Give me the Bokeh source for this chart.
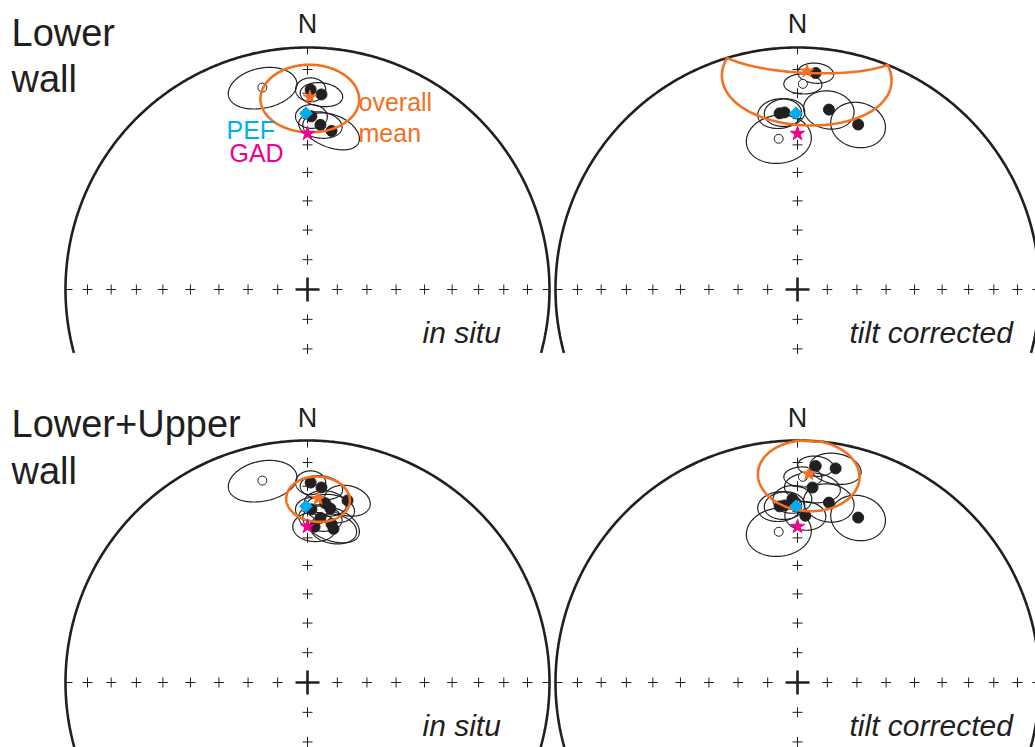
import numpy as np
from bokeh.plotting import figure
from bokeh.models import Range1d, Label
from bokeh.embed import file_html
from bokeh.resources import INLINE

# ---------------- data (declination, inclination in degrees) ----------------
# Lower wall sites, in situ  (negative inclination = upper hemisphere, open symbol)
lw_is_dec = [0.9, 4.1, 1.3, 4.5, 8.6, 347.4]
lw_is_inc = [18.5, 20.3, 29.2, 32.3, 34.1, -15.6]
lw_is_a = [4.1, 5.9, 4.6, 6.4, 8.9, 9.3]     # confidence semi-angle along declination
lw_is_b = [4.9, 4.8, 4.6, 5.0, 6.1, 8.4]     # confidence semi-angle along inclination
lw_is_rot = [0, -10, 0, -5, -20, 5]

# Lower wall sites, tilt corrected
lw_tc_dec = [4.8, 354.2, 355.8, 9.9, 20.2, 1.5, 352.9]
lw_tc_inc = [11.2, 27.7, 27.5, 25.5, 28.2, -16.1, -37.3]
lw_tc_a = [4.65, 6.3, 5.8, 7.2, 7.9, 5.1, 9.8]
lw_tc_b = [4.35, 5.8, 5.4, 7.5, 8.8, 4.2, 9.0]
lw_tc_rot = [0, 0, 0, 0, -12, 0, 0]

# Upper wall sites, in situ
uw_is_dec = [5.7, 7.5, 9.6, 2.6, 12.4]
uw_is_inc = [26.5, 28.3, 35.8, 35.8, 24.0]
uw_is_a = [6.0, 7.0, 7.0, 6.5, 6.5]
uw_is_b = [5.0, 5.5, 5.5, 5.5, 6.0]
uw_is_rot = [0, 0, 0, 0, 0]

# Upper wall sites, tilt corrected
uw_tc_dec = [10.1, 4.4, 358.4, 2.7]
uw_tc_inc = [11.1, 20.3, 25.2, 31.6]
uw_tc_a = [6.7, 7.7, 5.5, 6.0]
uw_tc_b = [6.6, 6.1, 5.5, 5.5]
uw_tc_rot = [0, 0, 0, 0]

# Overall means: [dec, inc, semi-angle dec, semi-angle inc] per panel
mean_lw_is = [0.7, 21.6, 13.7, 13.7]
mean_lw_tc = [2.5, 10.6, 22.0, 22.0]
mean_all_is = [3.3, 24.9, 9.0, 9.0]
mean_all_tc = [3.1, 14.8, 13.5, 15.0]

# Reference directions
pef_dir = [359.5, 28.0]
gad_dir = [0.0, 35.8]

# Tick positions (angle from vertical, degrees)
tick_colat = [10, 20, 30, 40, 50, 60, 70, 80]
tick_colat_south = [10, 20]

# ---------------- geometry helpers ----------------
RPX = 242.0                 # stereonet radius in pixels
W, H = 1035, 747
C0X, C0Y = 307.0, 289.0     # top-left stereonet centre (pixels)

def sx(px):
    return (px - C0X) / RPX

def sy(py):
    return (C0Y - py) / RPX

OFF = {
    "tl": (0.0, 0.0),
    "tr": (sx(797), 0.0),
    "bl": (0.0, sy(682)),
    "br": (sx(797), sy(682)),
}

def vec(dec, inc):
    d, i = np.radians(dec), np.radians(inc)
    return np.array([np.cos(i) * np.cos(d), np.cos(i) * np.sin(d), np.sin(i)])

def project(n, e, d):
    s = np.sqrt(1.0 + np.abs(d))
    return e / s, n / s

def cone(dec, inc, a, b, rot=0.0, npts=241):
    D, I = np.radians(dec), np.radians(inc)
    v = vec(dec, inc)
    e_dec = np.array([-np.sin(D), np.cos(D), 0.0])
    e_up = np.array([np.sin(I) * np.cos(D), np.sin(I) * np.sin(D), -np.cos(I)])
    t = np.linspace(0, 2 * np.pi, npts)
    A = np.radians(a) * np.cos(t)
    B = np.radians(b) * np.sin(t)
    ph = np.radians(rot)
    u1 = A * np.cos(ph) - B * np.sin(ph)
    u2 = A * np.sin(ph) + B * np.cos(ph)
    rho = np.sqrt(u1 ** 2 + u2 ** 2)
    w = (np.outer(np.cos(rho), v)
         + (np.sin(rho) / rho)[:, None] * (np.outer(u1, e_dec) + np.outer(u2, e_up)))
    return project(w[:, 0], w[:, 1], w[:, 2])

def point(dec, inc):
    v = vec(dec, inc)
    return project(v[0], v[1], v[2])

# ---------------- figure ----------------
p = figure(width=W, height=H,
           x_range=Range1d(sx(0), sx(W)), y_range=Range1d(sy(H), sy(0)),
           output_backend="svg", toolbar_location=None,
           x_axis_location=None, y_axis_location=None, min_border=0)
p.grid.visible = False
p.outline_line_color = None
p.background_fill_color = "white"

INK = "#231F20"
ORANGE = "#F37021"
CYAN = "#00AEEF"
MAGENTA = "#EC008C"

def r_of(colat):
    return np.sqrt(2) * np.sin(np.radians(colat) / 2)

def frame(key, bottom_clip):
    ox, oy = OFF[key]
    t0 = np.arccos(bottom_clip)
    t = np.linspace(-t0, t0, 400)
    p.line(ox + np.sin(t), oy + np.cos(t), line_color=INK, line_width=2.6)
    rs = [r_of(c) for c in tick_colat]
    rss = [r_of(c) for c in tick_colat_south]
    xs = [ox + r for r in rs] + [ox - r for r in rs] + [ox] * len(rs) + [ox] * len(rss)
    ys = [oy] * len(rs) * 2 + [oy + r for r in rs] + [oy - r for r in rss]
    p.scatter(xs, ys, marker="cross", size=10, line_color=INK, line_width=1)
    p.scatter([ox], [oy], marker="cross", size=24, line_color=INK, line_width=2.6)
    k = 7.0 / RPX
    p.multi_line([[ox, ox], [ox - 1, ox - 1 + k], [ox + 1, ox + 1 - k]],
                 [[oy + 1, oy + 1 - k], [oy, oy], [oy, oy]],
                 line_color=INK, line_width=1)

def sites(key, decs, incs, a_s, b_s, rots):
    ox, oy = OFF[key]
    exs, eys = [], []
    for dd, ii, aa, bb, rr in zip(decs, incs, a_s, b_s, rots):
        x, y = cone(dd, ii, aa, bb, rr)
        exs.append(list(ox + x))
        eys.append(list(oy + y))
    p.multi_line(exs, eys, line_color=INK, line_width=1.2)
    fx, fy, ux, uy = [], [], [], []
    for dd, ii in zip(decs, incs):
        x, y = point(dd, ii)
        if ii >= 0:
            fx.append(ox + x); fy.append(oy + y)
        else:
            ux.append(ox + x); uy.append(oy + y)
    p.scatter(fx, fy, marker="circle", size=11, fill_color=INK, line_color=INK)
    p.scatter(ux, uy, marker="circle", size=9, fill_color="white", line_color=INK, line_width=1)

def refs(key, mean):
    ox, oy = OFF[key]
    x, y = cone(mean[0], mean[1], mean[2], mean[3])
    p.line(ox + x, oy + y, line_color=ORANGE, line_width=2.6)
    px_, py_ = point(*pef_dir)
    p.scatter([ox + px_], [oy + py_], marker="square", angle=np.pi / 4, size=9,
              fill_color=CYAN, line_color=CYAN)
    gx, gy = point(*gad_dir)
    p.scatter([ox + gx], [oy + gy], marker="star", size=15, fill_color=MAGENTA, line_color=MAGENTA)
    mx, my = point(mean[0], mean[1])
    p.scatter([ox + mx], [oy + my], marker="star", size=14, fill_color=ORANGE, line_color=ORANGE)

frame("tl", -0.262)
frame("tr", -0.262)
frame("bl", -0.30)
frame("br", -0.30)

sites("tl", lw_is_dec, lw_is_inc, lw_is_a, lw_is_b, lw_is_rot)
refs("tl", mean_lw_is)

sites("tr", lw_tc_dec, lw_tc_inc, lw_tc_a, lw_tc_b, lw_tc_rot)
refs("tr", mean_lw_tc)

sites("bl", lw_is_dec + uw_is_dec, lw_is_inc + uw_is_inc, lw_is_a + uw_is_a,
      lw_is_b + uw_is_b, lw_is_rot + uw_is_rot)
refs("bl", mean_all_is)

sites("br", lw_tc_dec + uw_tc_dec, lw_tc_inc + uw_tc_inc, lw_tc_a + uw_tc_a,
      lw_tc_b + uw_tc_b, lw_tc_rot + uw_tc_rot)
refs("br", mean_all_tc)

FONT = "Liberation Sans"

def label(text, px, py, size, color=INK, style="normal", align="left"):
    # py is the desired baseline in pixels; compensate renderer baseline offset
    yb = py - 0.38 * size
    p.add_layout(Label(x=sx(px), y=sy(yb), text=text, text_font=FONT,
                       text_font_size=f"{size}px", text_color=color,
                       text_font_style=style, text_align=align,
                       text_baseline="alphabetic"))

label("Lower", 11, 47, 38)
label("wall", 11, 93, 38)
label("Lower+Upper", 11, 438, 38)
label("wall", 11, 485, 38)
for cx, by in [(307, 34), (797, 34), (307, 428), (797, 428)]:
    label("N", cx, by, 27, align="center")
for by in [343, 736]:
    label("in situ", 422, by, 30, style="italic")
    label("tilt corrected", 849, by, 30, style="italic")
label("PEF", 226, 139, 25, color=CYAN)
label("GAD", 229, 162, 25, color=MAGENTA)
label("overall", 358, 111, 25, color=ORANGE)
label("mean", 358, 142, 25, color=ORANGE)

open("out.html", "w").write(file_html(p, INLINE))
